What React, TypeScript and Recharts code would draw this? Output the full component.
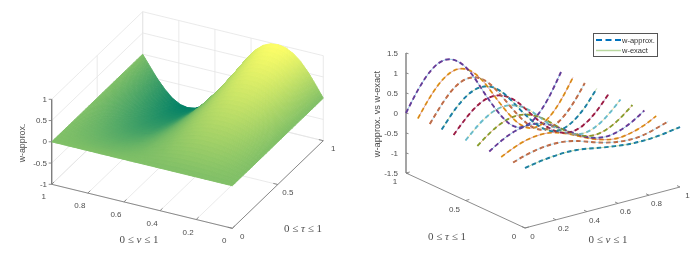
import { ComposedChart, Line, Scatter, XAxis, YAxis } from 'recharts'

// values
const nuTicks = [0, 0.2, 0.4, 0.6, 0.8, 1]
const tauTicks = [0, 0.5, 1]
const leftZTicks = [-1, -0.5, 0, 0.5, 1]
const rightZTicks = [-1.5, -1, -0.5, 0, 0.5, 1, 1.5]

const surfaceNu = [0, 0.042, 0.083, 0.125, 0.167, 0.208, 0.25, 0.292, 0.333, 0.375, 0.417, 0.458, 0.5, 0.542, 0.583, 0.625, 0.667, 0.708, 0.75, 0.792, 0.833, 0.875, 0.917, 0.958, 1]
const surfaceTau = [0, 0.25, 0.5, 0.75, 1]
const surfaceW = [
  [0, 0, 0, 0, 0, 0, 0, 0, 0, 0, 0, 0, 0, 0, 0, 0, 0, 0, 0, 0, 0, 0, 0, 0, 0],
  [0, 0.07, 0.13, 0.18, 0.22, 0.24, 0.25, 0.25, 0.23, 0.19, 0.14, 0.07, 0, -0.06, -0.13, -0.18, -0.22, -0.24, -0.25, -0.24, -0.22, -0.18, -0.13, -0.07, 0],
  [0, 0.14, 0.26, 0.37, 0.44, 0.49, 0.5, 0.49, 0.45, 0.38, 0.27, 0.14, 0, -0.13, -0.25, -0.36, -0.44, -0.49, -0.5, -0.49, -0.44, -0.36, -0.25, -0.13, 0],
  [0, 0.2, 0.39, 0.55, 0.66, 0.73, 0.75, 0.74, 0.68, 0.56, 0.41, 0.21, 0.01, -0.19, -0.38, -0.53, -0.65, -0.73, -0.75, -0.73, -0.65, -0.53, -0.38, -0.2, 0],
  [0, 0.27, 0.52, 0.73, 0.88, 0.97, 1, 0.98, 0.9, 0.75, 0.54, 0.28, 0.01, -0.25, -0.5, -0.71, -0.87, -0.97, -1, -0.97, -0.87, -0.71, -0.5, -0.26, 0],
]

const curveNu = [0, 0.083, 0.167, 0.25, 0.333, 0.417, 0.5, 0.583, 0.667, 0.75, 0.833, 0.917, 1]
const curveTau = [0, 0.1, 0.2, 0.3, 0.4, 0.5, 0.6, 0.7, 0.8, 0.9, 1]
const curveW = [
  [0, 0.06, 0.1, 0.12, 0.11, 0.06, 0, -0.05, -0.09, -0.1, -0.09, -0.05, 0],
  [0, 0.1, 0.17, 0.2, 0.18, 0.11, 0, -0.1, -0.17, -0.2, -0.18, -0.1, 0],
  [0, 0.15, 0.26, 0.3, 0.27, 0.16, 0.01, -0.14, -0.25, -0.3, -0.26, -0.16, 0],
  [0, 0.2, 0.34, 0.4, 0.36, 0.21, 0.01, -0.19, -0.34, -0.4, -0.35, -0.21, 0],
  [0, 0.25, 0.43, 0.5, 0.44, 0.27, 0.01, -0.24, -0.42, -0.5, -0.44, -0.26, 0],
  [0, 0.3, 0.52, 0.6, 0.53, 0.32, 0.01, -0.29, -0.51, -0.6, -0.53, -0.31, 0],
  [0, 0.35, 0.61, 0.71, 0.63, 0.38, 0.01, -0.34, -0.6, -0.7, -0.62, -0.37, 0],
  [0, 0.4, 0.69, 0.8, 0.71, 0.42, 0.01, -0.38, -0.68, -0.8, -0.7, -0.42, 0],
  [0, 0.44, 0.77, 0.89, 0.79, 0.47, 0.02, -0.43, -0.77, -0.9, -0.79, -0.47, 0],
  [0, 0.48, 0.83, 0.97, 0.86, 0.52, 0.02, -0.47, -0.85, -1, -0.88, -0.52, 0],
  [0, 0.53, 0.92, 1.07, 0.95, 0.58, 0.02, -0.52, -0.95, -1.12, -0.98, -0.58, 0],
]

const colorOrder = ['#0072BD', '#D95319', '#EDB120', '#7E2F8E', '#77AC30', '#4DBEEE', '#A2142F']

const HEIGHT = 253
const LEFT_WIDTH = 350
const RIGHT_WIDTH = 348
const AXIS = '#7f7f7f'
const GRID = '#e4e4e4'
const TICK_TEXT = '#4d4d4d'

// the two views, drawn as flat projections of (nu, tau, w)
const leftView = (nu: number, tau: number, w: number) => ({
  x: 232.3 - 180.6 * nu + 91 * tau,
  y: 228.3 - 44 * nu - 87.6 * tau - 42.5 * (w + 1),
})
const rightView = (nu: number, tau: number, w: number) => ({
  x: 175 + 155 * nu - 119 * tau,
  y: 228 - 41 * nu - 55 * tau - 40 * (w + 1.5),
})

const summer = (w: number) => {
  const t = Math.min(1, Math.max(0, (w + 1) / 2))
  return `rgb(${Math.round(255 * t)},${Math.round(255 * (0.5 + t / 2))},102)`
}

type Label = { x: number; y: number; text: string; anchor?: string; rotate?: boolean; size?: number; math?: string }

function drawLabel(props: any) {
  const { cx, cy, payload } = props
  const p = payload as Label
  const fontFamily = p.math ? '"Liberation Serif", serif' : '"Liberation Sans", Arial, sans-serif'
  return (
    <text
      x={cx}
      y={cy}
      textAnchor={p.anchor ?? 'middle'}
      dominantBaseline="central"
      fontFamily={fontFamily}
      fontSize={p.size ?? 8}
      fill={TICK_TEXT}
      transform={p.rotate ? `rotate(-90 ${cx} ${cy})` : undefined}
    >
      {p.math ? (
        <>
          0 ≤ <tspan fontStyle="italic">{p.math}</tspan> ≤ 1
        </>
      ) : (
        p.text
      )}
    </text>
  )
}

// interpolated shading inside one cell of the read table
function drawCell(props: any) {
  const { i, j } = props.payload
  const stepsNu = 8
  const stepsTau = 8
  const nu0 = surfaceNu[i]
  const nu1 = surfaceNu[i + 1]
  const tau0 = surfaceTau[j]
  const tau1 = surfaceTau[j + 1]
  const valueAt = (a: number, b: number) =>
    (1 - b) * ((1 - a) * surfaceW[j][i] + a * surfaceW[j][i + 1]) +
    b * ((1 - a) * surfaceW[j + 1][i] + a * surfaceW[j + 1][i + 1])
  const pointAt = (a: number, b: number) =>
    leftView(nu0 + a * (nu1 - nu0), tau0 + b * (tau1 - tau0), valueAt(a, b))
  const polys = []
  for (let b = stepsTau - 1; b >= 0; b--) {
    for (let a = stepsNu - 1; a >= 0; a--) {
      const corners = [
        pointAt(a / stepsNu, b / stepsTau),
        pointAt((a + 1) / stepsNu, b / stepsTau),
        pointAt((a + 1) / stepsNu, (b + 1) / stepsTau),
        pointAt(a / stepsNu, (b + 1) / stepsTau),
      ]
      const fill = summer(valueAt((a + 0.5) / stepsNu, (b + 0.5) / stepsTau))
      polys.push(
        <polygon
          key={`${a}-${b}`}
          points={corners.map((c) => `${c.x},${c.y}`).join(' ')}
          fill={fill}
          stroke={fill}
          strokeWidth={0.9}
        />,
      )
    }
  }
  return <g>{polys}</g>
}

// far cells first, so near ones cover them
const surfaceCells: { x: number; y: number; i: number; j: number }[] = []
for (let j = surfaceTau.length - 2; j >= 0; j--) {
  for (let i = surfaceNu.length - 2; i >= 0; i--) {
    surfaceCells.push({ ...leftView(surfaceNu[i], surfaceTau[j], surfaceW[j][i]), i, j })
  }
}

const gridLines = [
  ...nuTicks.map((n) => [leftView(n, 0, -1), leftView(n, 1, -1), leftView(n, 1, 1)]),
  ...tauTicks.map((t) => [leftView(0, t, -1), leftView(1, t, -1), leftView(1, t, 1)]),
  ...leftZTicks.map((z) => [leftView(1, 0, z), leftView(1, 1, z), leftView(0, 1, z)]),
]

const leftAxes = [
  [leftView(1, 0, -1), leftView(1, 0, 1)],
  [leftView(1, 0, -1), leftView(0, 0, -1)],
  [leftView(0, 0, -1), leftView(0, 1, -1)],
  ...leftZTicks.map((z) => {
    const p = leftView(1, 0, z)
    return [p, { x: p.x - 3, y: p.y }]
  }),
  ...nuTicks.map((n) => {
    const p = leftView(n, 0, -1)
    return [p, { x: p.x + 2.5, y: p.y - 2.4 }]
  }),
  ...tauTicks.map((t) => {
    const p = leftView(0, t, -1)
    return [p, { x: p.x - 4.5, y: p.y - 1.1 }]
  }),
]

const rightAxes = [
  [rightView(0, 1, -1.5), rightView(0, 1, 1.5)],
  [rightView(0, 1, -1.5), rightView(0, 0, -1.5)],
  [rightView(0, 0, -1.5), rightView(1, 0, -1.5)],
  ...rightZTicks.map((z) => {
    const p = rightView(0, 1, z)
    return [p, { x: p.x + 2.5, y: p.y + 0.7 }]
  }),
  ...nuTicks.map((n) => {
    const p = rightView(n, 0, -1.5)
    return [p, { x: p.x - 3, y: p.y - 1.4 }]
  }),
  ...tauTicks.map((t) => {
    const p = rightView(0, t, -1.5)
    return [p, { x: p.x + 3.8, y: p.y - 1 }]
  }),
]

const fmt = (v: number) => String(v)

const leftLabels: Label[] = [
  ...leftZTicks.map((z) => ({ x: 47, y: leftView(1, 0, z).y, text: fmt(z), anchor: 'end' })),
  ...nuTicks.map((n) => {
    const p = leftView(n, 0, -1)
    return { x: p.x - 8, y: p.y + 12.5, text: fmt(n) }
  }),
  ...tauTicks.map((t) => {
    const p = leftView(0, t, -1)
    return { x: p.x + 10, y: p.y + 8, text: fmt(t) }
  }),
  { x: 22, y: 143, text: 'w-approx.', rotate: true, size: 8.8 },
  { x: 139, y: 239, text: '', math: 'ν', size: 11 },
  { x: 303, y: 228, text: '', math: 'τ', size: 11 },
]

const rightLabels: Label[] = [
  ...rightZTicks.map((z) => ({ x: 48, y: rightView(0, 1, z).y, text: fmt(z), anchor: 'end' })),
  ...nuTicks.map((n) => {
    const p = rightView(n, 0, -1.5)
    return { x: p.x + 7.5, y: p.y + 8.5, text: fmt(n) }
  }),
  ...tauTicks.map((t) => {
    const p = rightView(0, t, -1.5)
    return { x: p.x - 11, y: p.y + 8.5, text: fmt(t) }
  }),
  { x: 27, y: 114, text: 'w-approx. vs w-exact', rotate: true, size: 9.2 },
  { x: 97, y: 236, text: '', math: 'τ', size: 11 },
  { x: 258, y: 239, text: '', math: 'ν', size: 11 },
]

const curves = curveTau.map((tau, k) =>
  curveNu.map((nu, m) => rightView(nu, tau, curveW[k][m])),
)

const chartStyle = { position: 'absolute' as const, top: 0 }

function LeftPlot() {
  return (
    <div style={{ ...chartStyle, left: 0 }}>
      <ComposedChart width={LEFT_WIDTH} height={HEIGHT} margin={{ top: 0, right: 0, bottom: 0, left: 0 }}>
        <XAxis dataKey="x" type="number" domain={[0, LEFT_WIDTH]} hide allowDataOverflow />
        <YAxis dataKey="y" type="number" domain={[0, HEIGHT]} reversed hide allowDataOverflow />
        {gridLines.map((d, n) => (
          <Line key={`g${n}`} data={d} dataKey="y" stroke={GRID} strokeWidth={0.8} dot={false} isAnimationActive={false} />
        ))}
        {leftAxes.map((d, n) => (
          <Line key={`a${n}`} data={d} dataKey="y" stroke={AXIS} strokeWidth={n === 0 ? 1.4 : 0.9} dot={false} isAnimationActive={false} />
        ))}
        <Scatter data={surfaceCells} dataKey="y" shape={drawCell} isAnimationActive={false} />
        <Scatter data={leftLabels} dataKey="y" shape={drawLabel} isAnimationActive={false} />
      </ComposedChart>
    </div>
  )
}

function RightPlot() {
  return (
    <div style={{ ...chartStyle, left: LEFT_WIDTH }}>
      <ComposedChart width={RIGHT_WIDTH} height={HEIGHT} margin={{ top: 0, right: 0, bottom: 0, left: 0 }}>
        <XAxis dataKey="x" type="number" domain={[0, RIGHT_WIDTH]} hide allowDataOverflow />
        <YAxis dataKey="y" type="number" domain={[0, HEIGHT]} reversed hide allowDataOverflow />
        {rightAxes.map((d, n) => (
          <Line key={`a${n}`} data={d} dataKey="y" stroke={AXIS} strokeWidth={n === 0 ? 1.4 : 0.9} dot={false} isAnimationActive={false} />
        ))}
        {curves.map((d, n) => (
          <Line
            key={`approx${n}`}
            name="w-approx."
            data={d}
            dataKey="y"
            type="natural"
            stroke={colorOrder[n % 7]}
            strokeWidth={1.9}
            strokeDasharray="4.5 3"
            dot={false}
            isAnimationActive={false}
          />
        ))}
        {curves.map((d, n) => (
          <Line
            key={`exact${n}`}
            name="w-exact"
            data={d}
            dataKey="y"
            type="natural"
            stroke={colorOrder[(n + 11) % 7]}
            strokeWidth={0.8}
            strokeOpacity={0.5}
            dot={false}
            isAnimationActive={false}
          />
        ))}
        <Scatter data={rightLabels} dataKey="y" shape={drawLabel} isAnimationActive={false} />
      </ComposedChart>
      <div
        style={{
          position: 'absolute',
          left: 243,
          top: 33,
          width: 63,
          height: 22,
          border: '1px solid #555',
          background: '#fff',
          font: '7.5px "Liberation Sans", Arial, sans-serif',
          color: '#333',
        }}
      >
        <svg width={27} height={22} style={{ position: 'absolute', left: 1, top: 0 }}>
          <line x1={1} y1={6} x2={26} y2={6} stroke="#0072BD" strokeWidth={2} strokeDasharray="6 3.5" />
          <line x1={1} y1={16.5} x2={26} y2={16.5} stroke="#b9d8a0" strokeWidth={1.5} />
        </svg>
        <span style={{ position: 'absolute', left: 28, top: 1.5 }}>w-approx.</span>
        <span style={{ position: 'absolute', left: 28, top: 12 }}>w-exact</span>
      </div>
    </div>
  )
}

export default function App() {
  return (
    <div style={{ position: 'absolute', left: 0, top: 0, width: 698, height: HEIGHT, background: '#fff', filter: 'blur(0.45px)' }}>
      <LeftPlot />
      <RightPlot />
    </div>
  )
}
